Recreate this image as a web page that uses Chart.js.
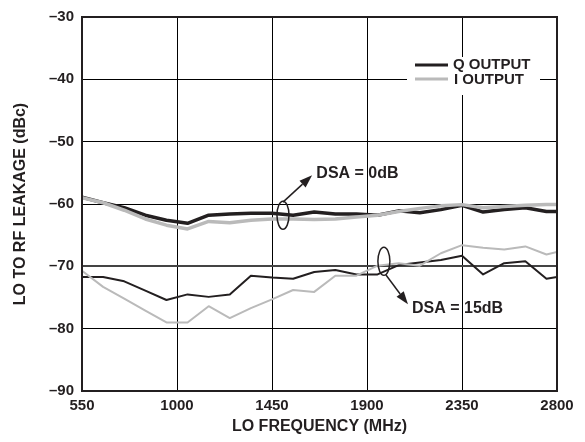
<!DOCTYPE html>
<html lang="en">
<head>
    <meta charset="UTF-8">
    <title>LO to RF Leakage vs LO Frequency</title>
    <script src="https://cdn.jsdelivr.net/npm/chart.js@4/dist/chart.umd.min.js"></script>
    <style>
        body {
            margin: 0;
            background-color: #fff;
        }
        #chartBox {
            width: 585px;
            height: 442px;
        }
    </style>
</head>
<body>
    <div id="chartBox">
        <canvas id="myChart" width="585" height="442"></canvas>
    </div>
    <script>
        // LO frequency (MHz) for every measured point
        const freq = [550, 650, 750, 850, 950, 1050, 1150, 1250, 1350, 1450, 1550, 1650,
                      1750, 1850, 1950, 2050, 2150, 2250, 2350, 2450, 2550, 2650, 2750, 2800];

        // leakage in dBc, DSA = 0dB
        const qOut0dB = [-58.9, -59.8, -60.6, -61.8, -62.6, -63.1, -61.8, -61.6, -61.5, -61.5, -61.8, -61.3,
                         -61.6, -61.6, -61.8, -61.1, -61.4, -60.9, -60.2, -61.3, -60.9, -60.6, -61.2, -61.2];
        const iOut0dB = [-59.0, -59.8, -61.0, -62.4, -63.4, -64.0, -62.8, -63.0, -62.6, -62.4, -62.4, -62.5,
                         -62.4, -62.1, -61.8, -61.2, -60.7, -60.3, -60.1, -60.6, -60.4, -60.2, -60.1, -60.1];

        // leakage in dBc, DSA = 15dB
        const qOut15dB = [-71.7, -71.7, -72.4, -73.9, -75.4, -74.5, -74.9, -74.5, -71.5, -71.8, -72.0, -70.9,
                          -70.6, -71.3, -71.3, -69.8, -69.4, -69.0, -68.3, -71.3, -69.5, -69.2, -72.0, -71.7];
        const iOut15dB = [-70.7, -73.3, -75.2, -77.1, -79.0, -79.0, -76.4, -78.3, -76.7, -75.3, -73.8, -74.1,
                          -71.5, -71.5, -69.9, -69.5, -69.9, -67.9, -66.6, -67.0, -67.3, -66.8, -68.1, -67.7];

        const xTicks = [550, 1000, 1450, 1900, 2350, 2800];
        const yTicks = [-90, -80, -70, -60, -50, -40, -30];
        const seriesNames = ['Q OUTPUT', 'I OUTPUT'];
        const dsaLabels = ['DSA = 0dB', 'DSA = 15dB'];

        const DARK = '#231f20';
        const GREY = '#bababa';
        const FONT = "'Liberation Sans', Arial, Helvetica, sans-serif";

        function pts(values) {
            return freq.map((f, i) => ({ x: f, y: values[i] }));
        }

        // ellipse + arrow + label for each DSA group, placed in data coordinates
        const callouts = [
            { text: dsaLabels[0], ellipse: [1502, -61.8], from: [1502, -59.7], to: [1640, -55.4], label: [1660, -55.2] },
            { text: dsaLabels[1], ellipse: [1980, -69.2], from: [1990, -71.4], to: [2094, -76.1], label: [2113, -76.8] }
        ];

        function arrow(ctx, x1, y1, x2, y2) {
            const ang = Math.atan2(y2 - y1, x2 - x1);
            const len = 13, half = 4.5;
            const bx = x2 - len * Math.cos(ang), by = y2 - len * Math.sin(ang);
            ctx.beginPath();
            ctx.moveTo(x1, y1);
            ctx.lineTo(bx, by);
            ctx.stroke();
            ctx.beginPath();
            ctx.moveTo(x2, y2);
            ctx.lineTo(bx + half * Math.sin(ang), by - half * Math.cos(ang));
            ctx.lineTo(bx - half * Math.sin(ang), by + half * Math.cos(ang));
            ctx.closePath();
            ctx.fill();
        }

        const decorations = {
            id: 'decorations',
            afterDatasetsDraw(chart) {
                const { ctx, chartArea: ca, scales: { x, y } } = chart;
                ctx.save();

                // legend box
                ctx.fillStyle = '#fff';
                ctx.fillRect(ca.right - 150, ca.top + 40, 133, 38);
                ctx.lineWidth = 3;
                ctx.strokeStyle = DARK;
                ctx.beginPath();
                ctx.moveTo(ca.right - 142, ca.top + 48);
                ctx.lineTo(ca.right - 109, ca.top + 48);
                ctx.stroke();
                ctx.strokeStyle = GREY;
                ctx.beginPath();
                ctx.moveTo(ca.right - 142, ca.top + 62);
                ctx.lineTo(ca.right - 109, ca.top + 62);
                ctx.stroke();
                ctx.fillStyle = DARK;
                ctx.font = 'bold 15px ' + FONT;
                ctx.textBaseline = 'middle';
                ctx.fillText(seriesNames[0], ca.right - 104, ca.top + 48);
                ctx.fillText(seriesNames[1], ca.right - 103, ca.top + 63);

                // callouts
                ctx.strokeStyle = DARK;
                ctx.lineWidth = 1.5;
                callouts.forEach(c => {
                    ctx.beginPath();
                    ctx.ellipse(x.getPixelForValue(c.ellipse[0]), y.getPixelForValue(c.ellipse[1]), 6, 14, 0, 0, Math.PI * 2);
                    ctx.stroke();
                    arrow(ctx, x.getPixelForValue(c.from[0]), y.getPixelForValue(c.from[1]),
                          x.getPixelForValue(c.to[0]), y.getPixelForValue(c.to[1]));
                    ctx.font = 'bold 16px ' + FONT;
                    ctx.fillText(c.text, x.getPixelForValue(c.label[0]), y.getPixelForValue(c.label[1]));
                });

                // plot frame
                ctx.lineWidth = 2;
                ctx.strokeRect(ca.left, ca.top, ca.right - ca.left, ca.bottom - ca.top);
                ctx.restore();
            }
        };

        const ctx = document.getElementById('myChart').getContext('2d');

        new Chart(ctx, {
            type: 'line',
            data: {
                datasets: [
                    { label: seriesNames[1] + ' 0dB', data: pts(iOut0dB), borderColor: GREY, borderWidth: 3.5 },
                    { label: seriesNames[0] + ' 0dB', data: pts(qOut0dB), borderColor: DARK, borderWidth: 3.5 },
                    { label: seriesNames[1] + ' 15dB', data: pts(iOut15dB), borderColor: GREY, borderWidth: 2 },
                    { label: seriesNames[0] + ' 15dB', data: pts(qOut15dB), borderColor: DARK, borderWidth: 2 }
                ]
            },
            options: {
                responsive: false,
                animation: false,
                events: [],
                layout: { padding: { top: 10, right: 28, left: 0, bottom: 0 } },
                elements: {
                    point: { radius: 0 },
                    line: { tension: 0, fill: false, borderJoinStyle: 'round' }
                },
                plugins: {
                    legend: { display: false },
                    tooltip: { enabled: false }
                },
                scales: {
                    x: {
                        type: 'linear',
                        min: 550,
                        max: 2800,
                        afterBuildTicks: s => { s.ticks = xTicks.map(v => ({ value: v })); },
                        afterFit: s => { s.height = 51; },
                        grid: { color: '#000', lineWidth: 1, drawTicks: false },
                        border: { display: false },
                        ticks: {
                            padding: 6,
                            color: DARK,
                            font: { family: FONT, size: 15, weight: 'bold' },
                            maxRotation: 0,
                            callback: v => String(v)
                        },
                        title: {
                            display: true,
                            text: 'LO FREQUENCY (MHz)',
                            color: DARK,
                            font: { family: FONT, size: 16, weight: 'bold' },
                            padding: { top: 0, bottom: 6 }
                        }
                    },
                    y: {
                        min: -90,
                        max: -30,
                        afterBuildTicks: s => { s.ticks = yTicks.map(v => ({ value: v })); },
                        afterFit: s => { s.width = 82; },
                        grid: {
                            color: c => c.tick && c.tick.value === -70 ? '#444' : '#000',
                            lineWidth: c => c.tick && c.tick.value === -70 ? 2 : 1,
                            drawTicks: false
                        },
                        border: { display: false },
                        ticks: {
                            padding: 8,
                            color: DARK,
                            font: { family: FONT, size: 15, weight: 'bold' },
                            callback: v => v < 0 ? '\u2013' + Math.abs(v) : String(v)
                        },
                        title: {
                            display: true,
                            text: 'LO TO RF LEAKAGE (dBc)',
                            color: DARK,
                            font: { family: FONT, size: 16, weight: 'bold' },
                            padding: { top: 11, bottom: 0 }
                        }
                    }
                }
            },
            plugins: [decorations]
        });
    </script>
</body>
</html>
